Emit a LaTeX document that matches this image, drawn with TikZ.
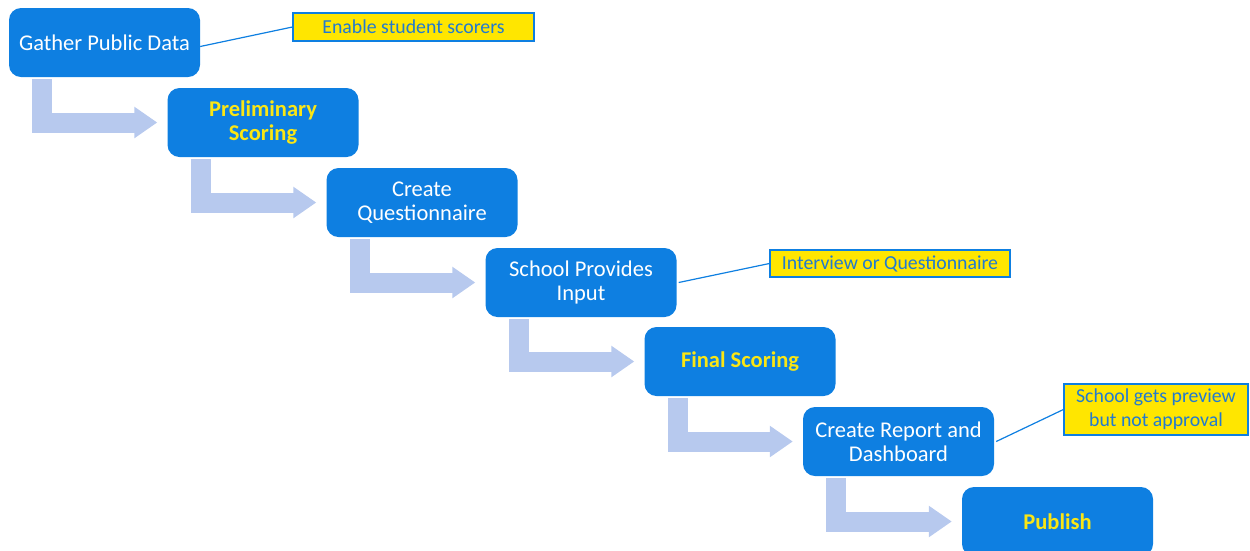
\documentclass[tikz,border=0pt]{standalone}
\usepackage{fontspec}
\setmainfont{Carlito}
\usetikzlibrary{arrows.meta}

\definecolor{stepblue}{RGB}{14,127,225}
\definecolor{arrowblue}{RGB}{183,201,238}
\definecolor{noteyellow}{RGB}{255,230,0}
\definecolor{notetext}{RGB}{34,122,208}
\definecolor{keyyellow}{RGB}{250,230,20}

\tikzset{
    stepbox/.style={fill=stepblue, rounded corners=12pt, minimum width=191pt,
        minimum height=69pt, align=center, text=white,
        font=\fontsize{22.5}{24}\selectfont},
    keybox/.style={stepbox, text=keyyellow, font=\fontsize{22.5}{24}\selectfont\bfseries},
    notebox/.style={fill=noteyellow, draw=stepblue, line width=1.2pt, align=center,
        text=notetext, font=\fontsize{19.8}{24}\selectfont, inner sep=2pt},
    flow/.style={arrowblue, line width=20pt, line join=miter,
        -{Triangle[length=23pt,width=30pt]}},
    noteline/.style={stepblue, line width=1.2pt}
}

\begin{document}
\begin{tikzpicture}[x=1pt,y=-1pt]
                \useasboundingbox (0,0) rectangle (1250,550);
                \clip (0,0) rectangle (1250,550);

                % steps
                \node[stepbox] (gather) at (104.5,42.5) {Gather Public Data};
                \node[keybox] (prelim) at (263,122.5) {Preliminary\\Scoring};
                \node[stepbox] (quest) at (422,202.5) {Create\\Questionnaire};
                \node[stepbox] (input) at (581,282.5) {School Provides\\Input};
                \node[keybox] (final) at (740,361.5) {Final Scoring};
                \node[stepbox] (report) at (898.5,441.5) {Create Report and\\Dashboard};
                \node[keybox] (publish) at (1057.5,521.5) {Publish};

                % notes
                \node[notebox, minimum width=241pt, minimum height=28pt] (note1) at (413.5,27) {Enable student scorers};
                \node[notebox, minimum width=240pt, minimum height=27pt] (note2) at (890,263.5) {Interview or Questionnaire};
                \node[notebox, minimum width=184pt, minimum height=51pt] (note3) at (1156,409.5) {School gets preview\\but not approval};

                \draw[noteline] ([yshift=-4pt]gather.east) -- (note1.west);
                \draw[noteline] ([xshift=2pt]input.east) -- (note2.west);
                \draw[noteline] ([xshift=2pt]report.east) -- (note3.west);

                % flow arrows
                \draw[flow] ([xshift=33.5pt,yshift=-2pt]gather.south west) |- ([xshift=-10pt]prelim.west);
                \draw[flow] ([xshift=33.5pt,yshift=-2pt]prelim.south west) |- ([xshift=-10pt]quest.west);
                \draw[flow] ([xshift=33.5pt,yshift=-2pt]quest.south west) |- ([xshift=-10pt]input.west);
                \draw[flow] ([xshift=33.5pt,yshift=-2pt]input.south west) |- ([xshift=-10pt]final.west);
                \draw[flow] ([xshift=33.5pt,yshift=-2pt]final.south west) |- ([xshift=-10pt]report.west);
                \draw[flow] ([xshift=33.5pt,yshift=-2pt]report.south west) |- ([xshift=-10pt]publish.west);
            \end{tikzpicture}
\end{document}
